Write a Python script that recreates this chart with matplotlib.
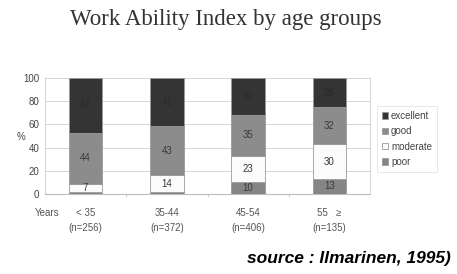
import numpy as np
import matplotlib.pyplot as plt

groups = ["< 35", "35-44", "45-54", "55   \u2265"]
counts = ["(n=256)", "(n=372)", "(n=406)", "(n=135)"]
poor = [2, 2, 10, 13]
moderate = [7, 14, 23, 30]
good = [44, 43, 35, 32]
excellent = [47, 41, 32, 25]
levels = ["excellent", "good", "moderate", "poor"]

plt.rcParams['font.family'] = ['Liberation Sans', 'DejaVu Sans']

fig = plt.figure(figsize=(4.57, 2.74), dpi=100)
ax = fig.add_axes([45/457, 1-194/274, 325/457, 116/274])

x = np.arange(len(groups))
w = 0.41
series = [("poor", poor, "#858585"), ("moderate", moderate, "#fbfbfb"),
          ("good", good, "#8c8c8c"), ("excellent", excellent, "#343434")]
bottom = np.zeros(len(groups))
handles = {}
for name, vals, col in series:
    b = ax.bar(x, vals, w, bottom=bottom, color=col, edgecolor="#9a9a9a", linewidth=0.6, zorder=3)
    handles[name] = b
    for xi, v, b0 in zip(x, vals, bottom):
        if v >= 5:
            ax.text(xi, b0 + v/2, str(v), ha="center", va="center", fontsize=7,
                    color="#3a3a3a" if name != "excellent" else "#2a2a2a", zorder=4)
    bottom += np.array(vals)

ax.set_xlim(-0.5, 3.5)
ax.set_ylim(0, 100)
ax.set_yticks(range(0, 101, 20))
ax.tick_params(axis="y", labelsize=7, labelcolor="#444444", length=0, pad=4)
ax.yaxis.grid(True, color="#d6d6d6", linewidth=0.7, zorder=0)
ax.set_xticks(x)
ax.set_xticklabels([g + "\n" + c for g, c in zip(groups, counts)], fontsize=7,
                   color="#555555", linespacing=1.6)
ax.tick_params(axis="x", length=0, pad=10)
ax.set_xticks([0.5, 1.5, 2.5], minor=True)
ax.tick_params(axis="x", which="minor", length=2, color="#cccccc")
for s in ["top", "right"]:
    ax.spines[s].set_color("#d6d6d6")
    ax.spines[s].set_linewidth(0.7)
ax.spines["left"].set_color("#d6d6d6")
ax.spines["bottom"].set_color("#bdbdbd")

fig.text(21/457, 1-137/274, "%", fontsize=7, color="#444444", ha="center", va="center")
fig.text(35/457, 1-213/274, "Years", fontsize=7, color="#555555", va="center")

leg = ax.legend([handles[n] for n in levels], levels, loc="upper left",
                bbox_to_anchor=(1.008, 0.8), fontsize=7, frameon=True,
                handlelength=0.6, handleheight=0.6, handletextpad=0.3,
                labelspacing=0.55, borderpad=0.5, fancybox=False)
leg.get_frame().set_edgecolor("#dddddd")
leg.get_frame().set_linewidth(0.6)
for t in leg.get_texts():
    t.set_color("#444444")

fig.text(226/457, 1-20/274, "Work Ability Index by age groups", ha="center", va="center",
         fontsize=16.5, family="Liberation Serif", color="#333333")
fig.text(247/457, 1-258/274, "source : Ilmarinen, 1995)", ha="left", va="center",
         fontsize=12.5, fontweight="bold", fontstyle="italic", color="black")

fig.savefig("out.png", dpi=100)
